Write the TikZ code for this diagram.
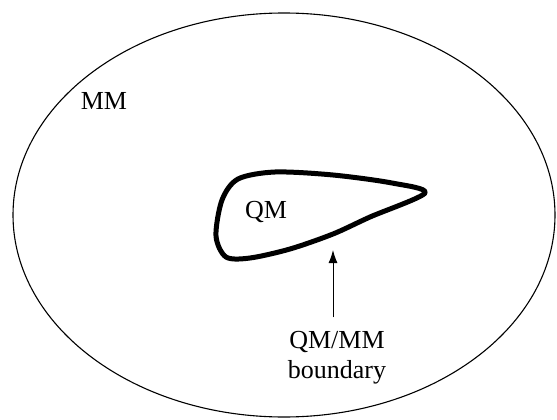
\documentclass[tikz,border=0pt]{standalone}
\usepackage{fontspec}
\setmainfont{Liberation Serif}
\usepackage{tikz}
\usetikzlibrary{arrows.meta,positioning}
\tikzstyle{region} = [draw, line width=1.1pt]
\tikzstyle{boundary} = [draw, line width=5pt, line join=round]
\tikzstyle{label} = [font=\fontsize{26}{30}\selectfont, inner sep=2pt]
\tikzstyle{line} = [draw, line width=1pt, -{Latex[length=13pt,width=9pt]}]

\begin{document}
\begin{tikzpicture}[x=1pt, y=-1pt]
        \useasboundingbox (0,0) rectangle (557,420);
        \path[region] (284,215) ellipse [x radius=271, y radius=202];
        \path[boundary] plot[smooth cycle, tension=0.5] coordinates {
            (226,257) (216,236) (222,200) (238,179) (275,172) (333,175)
            (392,183) (425,193) (370,217) (333,234) (290,249) (250,258)};
        \node[label] (mm) at (104,101) {MM};
        \node[label] (qm) at (266,212) {QM};
        \coordinate (edge) at (333,250);
        \node[label, align=center] (qmmm) at (337,358) {QM/MM\\boundary};
        \path[line] (qmmm.north -| edge) ++(0,-12) -- (edge);
    \end{tikzpicture}
\end{document}
